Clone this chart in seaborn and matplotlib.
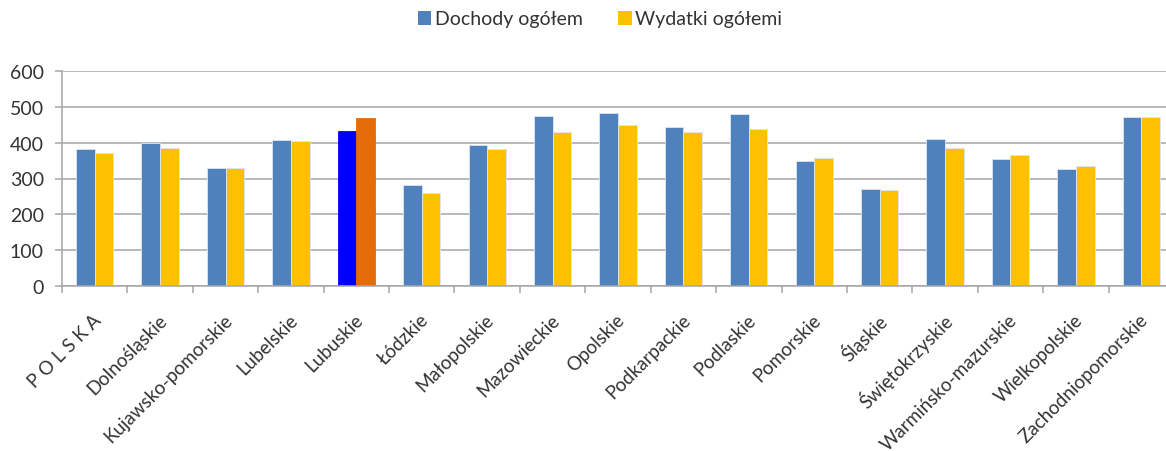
import matplotlib
matplotlib.use("Agg")
import matplotlib.pyplot as plt
import matplotlib.transforms as mtransforms
import seaborn as sns
import pandas as pd
from matplotlib.patches import Patch

regions = [
    "P O L S K A", "Dolnośląskie", "Kujawsko-pomorskie", "Lubelskie", "Lubuskie",
    "Łódzkie", "Małopolskie", "Mazowieckie", "Opolskie", "Podkarpackie",
    "Podlaskie", "Pomorskie", "Śląskie", "Świętokrzyskie", "Warmińsko-mazurskie",
    "Wielkopolskie", "Zachodniopomorskie",
]
dochody = [383, 398, 329, 408, 433, 283, 393, 475, 484, 444, 479, 350, 272, 411, 354, 326, 473]
wydatki = [372, 386, 329, 404, 469, 260, 383, 429, 450, 429, 439, 358, 268, 386, 365, 336, 473]
series_names = ["Dochody ogółem", "Wydatki ogółemi"]
series_colors = ["#4F81BD", "#FFC000"]
highlight_region = "Lubuskie"
highlight_colors = ["#0000FF", "#E46C0A"]
y_ticks = [0, 100, 200, 300, 400, 500, 600]

df = pd.DataFrame({
    "region": regions * 2,
    "value": dochody + wydatki,
    "series": [series_names[0]] * len(regions) + [series_names[1]] * len(regions),
})

sns.set_style("white")
plt.rcParams["font.family"] = ["Lato", "DejaVu Sans"]
text_color = "#333333"
grid_color = "#A6A6A6"

fig = plt.figure(figsize=(11.66, 4.52), dpi=100)
ax = fig.add_axes([62 / 1166, 1 - 287 / 452, 1112 / 1166, 215 / 452])

sns.barplot(
    data=df, x="region", y="value", hue="series", order=regions,
    hue_order=series_names, palette=series_colors, width=0.57, gap=0,
    saturation=1, legend=False, ax=ax, edgecolor="#DCE6F2", linewidth=0.6,
)

# Highlighted region gets its own pair of colours
hi = regions.index(highlight_region)
for container, col in zip(ax.containers, highlight_colors):
    container.patches[hi].set_facecolor(col)
    container.patches[hi].set_edgecolor(col)

ax.set_ylim(0, 600)
ax.set_yticks(y_ticks)
ax.set_xlim(-0.5, len(regions) - 0.5)
ax.yaxis.grid(True, color=grid_color, linewidth=1.1)
ax.set_axisbelow(True)
ax.set_xlabel("")
ax.set_ylabel("")

for side in ["top", "right"]:
    ax.spines[side].set_visible(False)
for side in ["left", "bottom"]:
    ax.spines[side].set_color(grid_color)
    ax.spines[side].set_linewidth(1.1)

# Category boundary tick marks on the x axis
ax.set_xticks([i - 0.5 for i in range(len(regions) + 1)], minor=True)
ax.tick_params(axis="x", which="minor", length=5, width=1.1, color=grid_color, direction="out")
ax.tick_params(axis="x", which="major", length=0, pad=22, labelsize=13.5, labelcolor=text_color)
ax.tick_params(axis="y", which="major", length=5, width=1.1, color=grid_color,
               direction="out", labelsize=14, labelcolor=text_color, pad=8)
ax.yaxis.set_ticks_position("left")
ax.xaxis.set_ticks_position("bottom")

# Rotated category labels, ending at the category centre
shift = mtransforms.ScaledTranslation(4 / 100, 0, fig.dpi_scale_trans)
for lab in ax.get_xticklabels():
    lab.set_rotation(45)
    lab.set_ha("right")
    lab.set_va("center")
    lab.set_rotation_mode("anchor")
    lab.set_transform(lab.get_transform() + shift)

handles = [Patch(facecolor=c, edgecolor="none") for c in series_colors]
fig.legend(
    handles, series_names, loc="center", bbox_to_anchor=(600 / 1166, 1 - 20 / 452),
    ncol=2, frameon=False, fontsize=14, handlelength=0.7, handleheight=0.7,
    handletextpad=0.2, columnspacing=1.8, labelcolor=text_color,
)

fig.savefig("out.png", dpi=100)
